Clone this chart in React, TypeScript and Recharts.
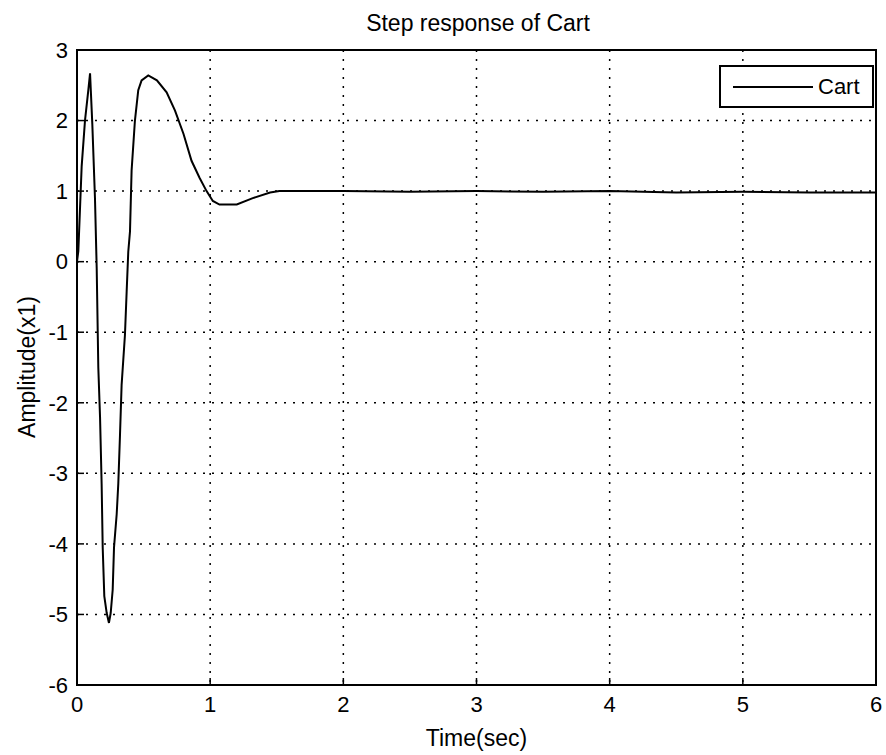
import { LineChart, Line, XAxis, YAxis, CartesianGrid, ReferenceArea, Legend } from 'recharts';

// step response samples
const timeSec = [
  0, 0.01, 0.035, 0.06, 0.085, 0.098, 0.115, 0.135, 0.148, 0.16, 0.173, 0.185, 0.193, 0.205,
  0.223, 0.24, 0.253, 0.268, 0.278, 0.298, 0.31, 0.323, 0.335, 0.36, 0.373, 0.385, 0.398,
  0.41, 0.435, 0.46, 0.485, 0.535, 0.6, 0.673, 0.736, 0.8, 0.86, 0.92, 0.973, 1.02, 1.07,
  1.2, 1.32, 1.45, 1.52, 2.0, 2.5, 3.0, 3.5, 4.0, 4.5, 5.0, 5.5, 6.0,
];
const cartAmp = [
  0, 0.15, 1.35, 2.0, 2.43, 2.67, 1.95, 0.9, -0.1, -1.5, -2.2, -3.15, -4.05, -4.74,
  -4.98, -5.12, -4.98, -4.65, -4.05, -3.58, -3.15, -2.45, -1.75, -1.04, -0.42, 0.14, 0.43,
  1.29, 2.0, 2.43, 2.57, 2.64, 2.57, 2.4, 2.14, 1.81, 1.43, 1.19, 1.0, 0.86, 0.81,
  0.81, 0.9, 0.98, 1.0, 1.0, 0.99, 1.0, 0.99, 1.0, 0.98, 0.99, 0.98, 0.98,
];
const xTicks = [0, 1, 2, 3, 4, 5, 6];
const yTicks = [-6, -5, -4, -3, -2, -1, 0, 1, 2, 3];

const data = timeSec.map((t, i) => ({ t, cart: cartAmp[i] }));

const font = "'Liberation Sans', Arial, sans-serif";

function CartLegend() {
  return (
    <div
      style={{
        width: 155,
        height: 43,
        border: '2px solid #000',
        background: '#fff',
        display: 'flex',
        alignItems: 'center',
        fontFamily: font,
        fontSize: 22,
        color: '#000',
        boxSizing: 'border-box',
      }}
    >
      <div style={{ width: 80, height: 0, borderTop: '2px solid #000', marginLeft: 12, marginRight: 5 }} />
      <span>Cart</span>
    </div>
  );
}

export default function App() {
  return (
    <div style={{ position: 'absolute', left: 0, top: 0, width: 886, height: 755, background: '#fff', fontFamily: font }}>
      <div style={{ position: 'absolute', left: 0, width: 956, top: 9, textAlign: 'center', fontSize: 23, lineHeight: '28px', color: '#000' }}>
        Step response of Cart
      </div>
      <div style={{ position: 'absolute', left: 77, width: 799, top: 724, textAlign: 'center', fontSize: 23, lineHeight: '28px', color: '#000' }}>
        Time(sec)
      </div>
      <div
        style={{
          position: 'absolute',
          left: 27,
          top: 367,
          transform: 'translate(-50%, -50%) rotate(-90deg)',
          fontSize: 23,
          lineHeight: '28px',
          color: '#000',
          whiteSpace: 'nowrap',
        }}
      >
        Amplitude(x1)
      </div>
      <LineChart width={886} height={755} data={data} margin={{ top: 50, right: 10, left: 0, bottom: 0 }}>
        <CartesianGrid stroke="#000" strokeDasharray="2 7" strokeWidth={1.5} />
        <XAxis
          dataKey="t"
          type="number"
          domain={[0, 6]}
          ticks={xTicks}
          height={70}
          axisLine={false}
          tickLine={{ stroke: '#000', strokeWidth: 1.5 }}
          tickSize={-7}
          tickMargin={18}
          tick={{ fill: '#000', fontSize: 22, fontFamily: font }}
        />
        <YAxis
          type="number"
          domain={[-6, 3]}
          ticks={yTicks}
          width={77}
          axisLine={false}
          tickLine={{ stroke: '#000', strokeWidth: 1.5 }}
          tickSize={-7}
          tickMargin={16}
          tick={{ fill: '#000', fontSize: 22, fontFamily: font }}
        />
        <ReferenceArea x1={0} x2={6} y1={-6} y2={3} fill="none" stroke="#000" strokeWidth={2} />
        <Legend
          layout="horizontal"
          verticalAlign="middle"
          align="center"
          wrapperStyle={{ left: 719, top: 65, width: 'auto', height: 'auto' }}
          content={() => <CartLegend />}
        />
        <Line
          type="linear"
          dataKey="cart"
          name="Cart"
          stroke="#000"
          strokeWidth={2}
          dot={false}
          isAnimationActive={false}
        />
      </LineChart>
    </div>
  );
}
